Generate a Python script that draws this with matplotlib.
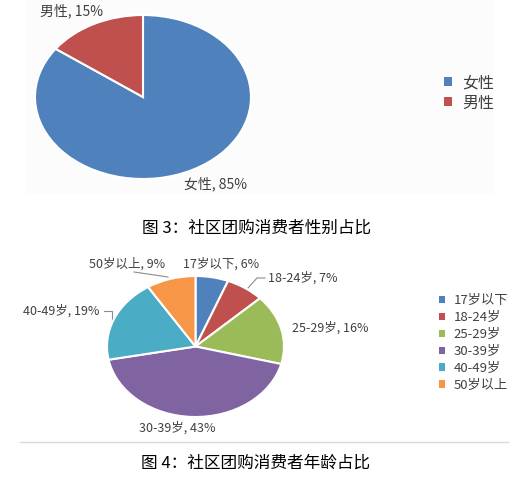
import matplotlib
matplotlib.use("Agg")
import matplotlib.pyplot as plt
from matplotlib.patches import Patch, Rectangle
from matplotlib.lines import Line2D

plt.rcParams['font.family'] = ['Noto Sans CJK SC', 'DejaVu Sans']

# ---------------- data ----------------
gender_labels = ['女性', '男性']
gender_values = [85, 15]
gender_colors = ['#4F81BD', '#C0504D']

age_labels = ['17岁以下', '18-24岁', '25-29岁', '30-39岁', '40-49岁', '50岁以上']
age_values = [6, 7, 16, 43, 19, 9]
age_colors = ['#4F81BD', '#C0504D', '#9BBB59', '#8064A2', '#4BACC6', '#F79646']

caption1 = '图 3：社区团购消费者性别占比'
caption2 = '图 4：社区团购消费者年龄占比'

W, H = 518, 484
fig = plt.figure(figsize=(W / 100, H / 100), dpi=100)
fig.patch.set_facecolor('white')

def box(x0, y0, x1, y1):
    return [x0 / W, 1 - y1 / H, (x1 - x0) / W, (y1 - y0) / H]

def pt(x, y):
    return (x / W, 1 - y / H)

label_color = '#404040'

# faint background of top chart
fig.patches.append(Rectangle(pt(27, 194), 466 / W, 194 / H, transform=fig.transFigure,
                             facecolor='#fcfcfc', edgecolor='none', zorder=-10))

# ---------------- top pie ----------------
ax1 = fig.add_axes(box(35, 15, 251, 179))
ax1.set_zorder(2)
ax1.pie(gender_values, colors=gender_colors, startangle=90, counterclock=False,
        wedgeprops=dict(edgecolor='white', linewidth=1.5))
ax1.set_aspect('auto')
ax1.set_xlim(-1, 1)
ax1.set_ylim(-1, 1)
ax1.axis('off')

top_label_pos = [(215, 184), (72, 11)]
for lab, v, p in zip(gender_labels, gender_values, top_label_pos):
    fig.text(*pt(*p), f'{lab}, {v}%', ha='center', va='center', fontsize=10, color=label_color)

fig.legend(handles=[Patch(facecolor=c, edgecolor='none') for c in gender_colors],
           labels=gender_labels, loc='center left', bbox_to_anchor=pt(430, 93),
           frameon=False, fontsize=11.5, handlelength=0.5, handleheight=0.5,
           handletextpad=0.6, labelspacing=0.2, labelcolor='#404040')

fig.text(*pt(257, 228), caption1, ha='center', va='center', fontsize=12, color='black')

# ---------------- bottom pie ----------------
ax2 = fig.add_axes(box(107, 276, 284, 417))
ax2.set_zorder(2)
ax2.pie(age_values, colors=age_colors, startangle=90, counterclock=False,
        wedgeprops=dict(edgecolor='white', linewidth=1.5))
ax2.set_aspect('auto')
ax2.set_xlim(-1, 1)
ax2.set_ylim(-1, 1)
ax2.axis('off')

bottom_label_pos = [(221, 264), (303, 278), (330, 328), (177, 428), (61, 311), (127, 264)]
for lab, v, p in zip(age_labels, age_values, bottom_label_pos):
    fig.text(*pt(*p), f'{lab}, {v}%', ha='center', va='center', fontsize=9, color=label_color)

# leader lines
leaders = [
    [(134, 272), (168, 277)],
    [(248, 288), (257, 278), (265, 278)],
    [(104, 311), (112, 311), (112, 320)],
]
for seg in leaders:
    xs = [s[0] / W for s in seg]
    ys = [1 - s[1] / H for s in seg]
    fig.add_artist(Line2D(xs, ys, transform=fig.transFigure, color='#8c8c8c', linewidth=0.8))

fig.legend(handles=[Patch(facecolor=c, edgecolor='none') for c in age_colors],
           labels=age_labels, loc='center left', bbox_to_anchor=pt(427, 343),
           frameon=False, fontsize=9.5, handlelength=0.5, handleheight=0.5,
           handletextpad=0.6, labelspacing=0.3, labelcolor='#404040')

# separator
fig.add_artist(Line2D([20 / W, 508 / W], [1 - 442 / H] * 2, transform=fig.transFigure,
                      color='#d9d9d9', linewidth=1))

fig.text(*pt(256, 463), caption2, ha='center', va='center', fontsize=12, color='black')

fig.savefig('out.png', dpi=100)
